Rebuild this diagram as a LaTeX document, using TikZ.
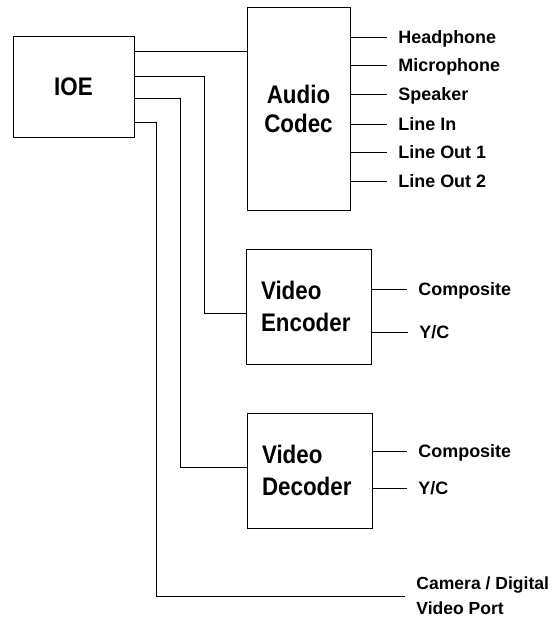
\documentclass[tikz,border=0pt]{standalone}
\usepackage{fontspec}
\setmainfont{Liberation Sans}
\newfontfamily\narrowfont{Liberation Sans}[FakeStretch=0.88]
\usetikzlibrary{positioning}

\begin{document}
\begin{tikzpicture}[
  x=1bp, y=-1bp, line width=0.9bp,
  box/.style={draw, inner sep=0pt, align=center, font=\narrowfont\bfseries\fontsize{25.5}{29}\selectfont},
  blk/.style={draw, minimum height=115bp, text width=95bp, inner xsep=15bp, align=left,
    font=\narrowfont\bfseries\fontsize{25.5}{31.5}\selectfont},
  port/.style={anchor=west, inner xsep=11bp, inner ysep=0pt, text height=13bp, text depth=0pt,
    font=\bfseries\fontsize{18}{25}\selectfont},
  wire/.style={line width=0.9bp}
]
\useasboundingbox (0,0) rectangle (556,618);

\node[box, minimum width=121bp, minimum height=101bp] (ioe) at (73.5,86.5) {IOE};
\node[box, minimum width=103bp, minimum height=203bp] (codec) at (298.5,108.5) {Audio\\Codec};
\node[blk] (enc) at (308.5,306.5) {Video\\Encoder};
\node[blk] (dec) at (309.5,470.5) {Video\\Decoder};

\node[port] (hp) at (387,37) {Headphone};
\node[port] (mic) at (387,65) {Microphone};
\node[port] (spk) at (387,94) {Speaker};
\node[port] (lin) at (387,124) {Line In};
\node[port] (lo1) at (387,152) {Line Out 1};
\node[port] (lo2) at (387,181) {Line Out 2};
\node[port] (ecomp) at (407,289) {Composite};
\node[port] (eyc) at (408,332) {Y/C};
\node[port] (dcomp) at (407,451) {Composite};
\node[port] (dyc) at (407,488) {Y/C};
\node[port, text height=, text depth=, inner xsep=11bp, align=left, font=\bfseries\fontsize{17.6}{25}\selectfont]
  (cam) at (405,596) {Camera / Digital\\Video Port};

\foreach \p in {hp,mic,spk,lin,lo1,lo2}
  \draw[wire] (codec.east |- \p.west) -- (\p.west);
\foreach \p in {ecomp,eyc}
  \draw[wire] (enc.east |- \p.west) -- (\p.west);
\foreach \p in {dcomp,dyc}
  \draw[wire] (dec.east |- \p.west) -- (\p.west);

\coordinate (tenc) at (204,313);
\coordinate (tdec) at (180,467);
\coordinate (tcam) at (156,596);
\draw[wire] (ioe.east |- 0,51) -- (codec.west |- 0,51);
\draw[wire] (ioe.east |- 0,76) -| (tenc) -- (enc.west |- tenc);
\draw[wire] (ioe.east |- 0,98) -| (tdec) -- (dec.west |- tdec);
\draw[wire] (ioe.east |- 0,122) -| (tcam) -- (cam.west);
\end{tikzpicture}
\end{document}
